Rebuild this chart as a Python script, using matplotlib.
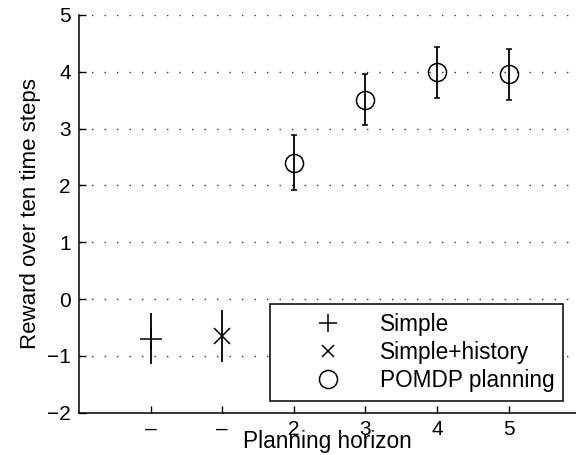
import matplotlib
matplotlib.use("Agg")
import matplotlib.pyplot as plt
from matplotlib.lines import Line2D

plt.rcParams['font.family'] = ['Liberation Sans', 'DejaVu Sans']

# data
simple_x = [0]
simple_y = [-0.70]
simple_err = [0.45]

hist_x = [1]
hist_y = [-0.65]
hist_err = [0.45]

horizons = [2, 3, 4, 5]
pomdp_y = [2.40, 3.51, 3.99, 3.96]
pomdp_err = [0.48, 0.45, 0.45, 0.45]

tick_pos = [0, 1, 2, 3, 4, 5]
tick_labels = ['–', '–', '2', '3', '4', '5']

fig = plt.figure(figsize=(5.76, 4.55), dpi=100)
ax = fig.add_axes([79/576, 1 - 412.7/455, 1 - 79/576, (412.7 - 15)/455])

ax.errorbar(simple_x, simple_y, yerr=simple_err, fmt='+', color='black',
            markersize=16, markeredgewidth=1.1, elinewidth=1.3, capsize=0)
ax.errorbar(hist_x, hist_y, yerr=hist_err, fmt='x', color='black',
            markersize=11, markeredgewidth=1.1, elinewidth=1.3, capsize=0)
ax.errorbar(horizons, pomdp_y, yerr=pomdp_err, fmt='o', color='black',
            mfc='none', markersize=13, markeredgewidth=1.1, elinewidth=1.3,
            capsize=2, capthick=1.3)

ax.set_xlim(-1, 5.94)
ax.set_ylim(-2, 5)
ax.set_xticks(tick_pos)
ax.set_xticklabels(tick_labels)
ax.set_yticks(range(-2, 6))
ax.set_yticklabels(['−2', '−1', '0', '1', '2', '3', '4', '5'])
ax.tick_params(direction='in', length=5, width=1, labelsize=15, pad=6)
ax.tick_params(axis='x', pad=5)

for s in ['top', 'right']:
    ax.spines[s].set_visible(False)
for s in ['left', 'bottom']:
    ax.spines[s].set_linewidth(1.1)

ax.yaxis.grid(True, linestyle=(0, (1, 8)), linewidth=1.0, color='#333333')
ax.set_axisbelow(True)

ax.set_xlabel('Planning horizon', fontsize=16.3, labelpad=-6)
ax.set_ylabel('Reward over ten time steps', fontsize=16, labelpad=4)

handles = [
    Line2D([], [], marker='+', linestyle='none', color='black', markersize=13, markeredgewidth=1.1),
    Line2D([], [], marker='x', linestyle='none', color='black', markersize=8, markeredgewidth=1.1),
    Line2D([], [], marker='o', linestyle='none', color='black', mfc='none', markersize=13, markeredgewidth=1.1),
]
leg = ax.legend(handles, ['Simple', 'Simple+history', 'POMDP planning'],
                loc='upper left', bbox_to_anchor=(270/576, 1 - 304/455),
                bbox_transform=fig.transFigure, fontsize=16.3, fancybox=False,
                framealpha=1, edgecolor='black', borderpad=0.4,
                handlelength=4.3, handletextpad=0.15, labelspacing=0.22,
                borderaxespad=0)
leg.get_frame().set_linewidth(1.1)

fig.savefig('out.png', dpi=100)
